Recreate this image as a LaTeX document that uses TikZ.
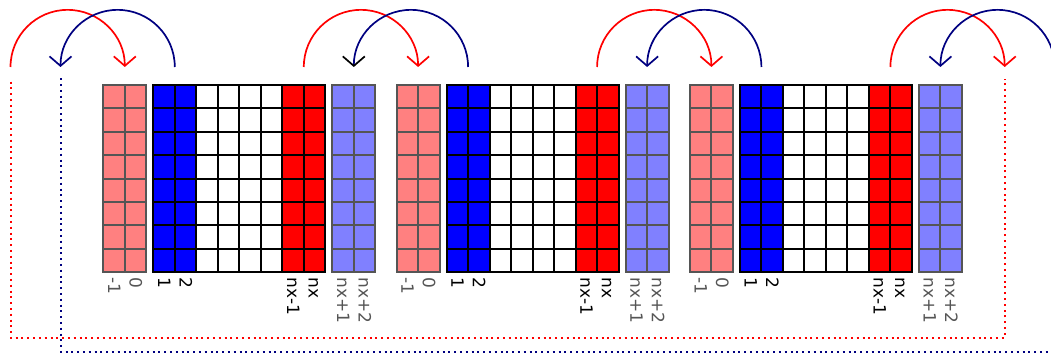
\documentclass[tikz,border=0pt]{standalone}
\usepackage{fontspec}
\setmainfont{DejaVu Sans}
\usetikzlibrary{arrows.meta}
\definecolor{ghostred}{RGB}{255,128,128}
\definecolor{ghostblue}{RGB}{128,128,255}
\definecolor{ghostline}{RGB}{85,85,85}
\definecolor{arcnavy}{RGB}{0,0,128}
\begin{document}
\begin{tikzpicture}[x=1pt,y=1pt,
  cellline/.style={line width=2pt,draw=black},
  ghostcell/.style={line width=2pt,draw=ghostline},
  tipbarb/.style={-{Straight Barb[length=9.5pt,width=22pt]}},
  redarc/.style={draw=red,line width=1.7pt,tipbarb},
  bluearc/.style={draw=arcnavy,line width=1.7pt,tipbarb},
  bluearcblack/.style={draw=arcnavy,line width=1.7pt,-{Straight Barb[length=9.5pt,width=22pt,color=black]}},
  dotline/.style={line width=2pt,dash pattern=on 2pt off 3.8pt},
  lbl/.style={rotate=-90,anchor=west,inner sep=0pt,font=\fontsize{17}{17}\selectfont,text height=12pt,text depth=0pt},
  ghostlbl/.style={lbl,text=ghostline}]
\useasboundingbox (0,0) rectangle (1051,354);
\clip (0,0) rectangle (1051,354);
\def\P{293.3}
\def\W{21.5}
\def\H{23.4125}
\def\B{81.7}
% grids
\foreach \k in {0,1,2} {
  \pgfmathsetmacro{\gx}{103.3+\P*\k}
  \pgfmathsetmacro{\ix}{\gx+50}
  \pgfmathsetmacro{\rx}{\ix+179}
  \fill[ghostred] (\gx,\B) rectangle ++(2*\W,8*\H);
  \fill[ghostblue] (\rx,\B) rectangle ++(2*\W,8*\H);
  \fill[blue] (\ix,\B) rectangle ++(2*\W,8*\H);
  \fill[white] (\ix+2*\W,\B) rectangle ++(4*\W,8*\H);
  \fill[red] (\ix+6*\W,\B) rectangle ++(2*\W,8*\H);
  % ghost grids
  \foreach \gg in {\gx,\rx} {
    \draw[ghostcell] (\gg,\B) rectangle ++(2*\W,8*\H);
    \draw[ghostcell] (\gg+\W,\B) -- ++(0,8*\H);
    \foreach \r in {1,...,7} \draw[ghostcell] (\gg,\B+\r*\H) -- ++(2*\W,0);
  }
  % interior grid
  \draw[cellline] (\ix,\B) rectangle ++(8*\W,8*\H);
  \foreach \c in {1,...,7} \draw[cellline] (\ix+\c*\W,\B) -- ++(0,8*\H);
  \foreach \r in {1,...,7} \draw[cellline] (\ix,\B+\r*\H) -- ++(8*\W,0);
  % labels
  \node[ghostlbl] (lm\k) at (\gx+0.5*\W,76.5) {-1};
  \node[ghostlbl] (lz\k) at (\gx+1.5*\W,76.5) {0};
  \node[lbl] (la\k) at (\ix+0.5*\W,76.5) {1};
  \node[lbl] (lb\k) at (\ix+1.5*\W,76.5) {2};
  \node[lbl] (lc\k) at (\ix+6.5*\W,76.5) {nx-1};
  \node[lbl] (ld\k) at (\ix+7.5*\W,76.5) {nx};
  \node[ghostlbl] (le\k) at (\rx+0.5*\W,76.5) {nx+1};
  \node[ghostlbl] (lf\k) at (\rx+1.5*\W,76.5) {nx+2};
}
% exchange arcs
\foreach \k in {0,1,2,3} {
  \coordinate (rs\k) at (10.5+\P*\k,287);
  \coordinate (bs\k) at (174.8+\P*\k,287);
  \draw[redarc] (rs\k) arc[start angle=180,end angle=0,radius=57.15];
  \ifnum\k=1
    \draw[bluearcblack] (bs\k) arc[start angle=0,end angle=180,radius=57.15];
  \else
    \draw[bluearc] (bs\k) arc[start angle=0,end angle=180,radius=57.15];
  \fi
}
% periodic dotted links
\coordinate (redL) at (10.5,272.3);
\coordinate (redR) at (1004.8,275.3);
\coordinate (blueL) at (60.5,275.7);
\coordinate (blueR) at (1070,2.3);
\draw[dotline,red] (redL) -- ++(0,-255.8) -| (redR);
\draw[dotline,arcnavy] (blueL) |- (blueR);
\end{tikzpicture}
\end{document}
